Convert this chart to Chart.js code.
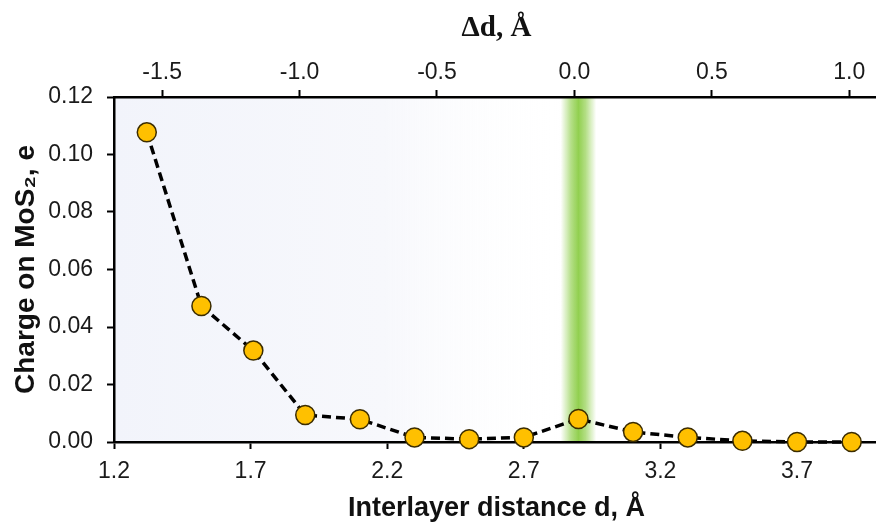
<!DOCTYPE html>
<html>
<head>
<meta charset="utf-8">
<script src="https://cdn.jsdelivr.net/npm/chart.js@4"></script>
<style>
  body { margin: 0; overflow: hidden; background: #fff; }
  #caja { width: 876px; height: 525px; overflow: hidden; }
</style>
</head>
<body>
<div id="caja"><canvas id="miGrafica" width="890" height="525"></canvas></div>
<script>
const distancia = [1.32, 1.52, 1.71, 1.90, 2.10, 2.30, 2.50, 2.70, 2.90, 3.10, 3.30, 3.50, 3.70, 3.90];
const carga = [0.1077, 0.0473, 0.0318, 0.0094, 0.0079, 0.0016, 0.0010, 0.0016, 0.0080, 0.0035, 0.0016, 0.0004, 0.0000, 0.0000];

const ticksD = [1.2, 1.7, 2.2, 2.7, 3.2, 3.7];
const ticksDelta = [-1.5, -1.0, -0.5, 0.0, 0.5, 1.0];
const ticksCarga = [0, 0.02, 0.04, 0.06, 0.08, 0.10, 0.12];
const dEquilibrio = 2.9;

const puntos = distancia.map((d, i) => ({x: d, y: carga[i]}));

const fuenteTicks = {family: 'Liberation Sans', size: 23};

// fondo azulado a la izquierda y franja verde en la distancia de equilibrio
const fondo = {
  id: 'fondo',
  beforeDraw(chart) {
    const {ctx, chartArea: a, scales: {x}} = chart;
    ctx.save();
    const xFin = x.getPixelForValue(2.85);
    let g = ctx.createLinearGradient(a.left, 0, xFin, 0);
    g.addColorStop(0, 'rgb(242,244,251)');
    g.addColorStop(0.6, 'rgb(247,248,252)');
    g.addColorStop(1, 'rgba(255,255,255,0)');
    ctx.fillStyle = g;
    ctx.fillRect(a.left, a.top, xFin - a.left, a.bottom - a.top);

    const x0 = x.getPixelForValue(dEquilibrio - 0.065);
    const x1 = x.getPixelForValue(dEquilibrio + 0.065);
    g = ctx.createLinearGradient(x0, 0, x1, 0);
    g.addColorStop(0, 'rgba(146,208,80,0)');
    g.addColorStop(0.3, 'rgba(146,208,80,0.7)');
    g.addColorStop(0.5, 'rgba(146,208,80,1)');
    g.addColorStop(0.7, 'rgba(146,208,80,0.7)');
    g.addColorStop(1, 'rgba(146,208,80,0)');
    ctx.fillStyle = g;
    ctx.fillRect(x0, a.top, x1 - x0, a.bottom - a.top);
    ctx.restore();
  }
};

const sinPaddingX = (s, alto) => { s.height = alto; s.paddingLeft = 0; s.paddingRight = 0; };

const graf = document.getElementById('miGrafica').getContext('2d');
const myChart = new Chart(graf, {
  type: 'line',
  data: {
    datasets: [{
      data: puntos,
      xAxisID: 'x',
      yAxisID: 'y',
      borderColor: '#000',
      borderWidth: 3.5,
      borderDash: [9, 5],
      pointRadius: 9.5,
      pointHoverRadius: 9.5,
      pointBackgroundColor: '#FFC000',
      pointBorderColor: '#3b2c00',
      pointBorderWidth: 1.5,
      tension: 0,
      clip: false
    }]
  },
  options: {
    responsive: false,
    animation: false,
    layout: {padding: {left: 0, right: 5, top: 0, bottom: 0}},
    plugins: {legend: {display: false}, tooltip: {enabled: false}},
    scales: {
      x: {
        type: 'linear',
        position: 'bottom',
        min: 1.2,
        max: 4.0,
        afterBuildTicks: s => { s.ticks = ticksD.map(v => ({value: v})); },
        afterFit: s => sinPaddingX(s, 83),
        grid: {drawOnChartArea: false, tickLength: 7, tickWidth: 2, tickColor: '#000'},
        border: {color: '#000', width: 2.5},
        ticks: {font: fuenteTicks, color: '#1a1a1a', padding: 9, callback: v => v.toFixed(1)},
        title: {
          display: true,
          text: 'Interlayer distance d, Å',
          font: {family: 'Liberation Sans', size: 27, weight: 'bold'},
          color: '#111',
          padding: {top: 0, bottom: 0}
        }
      },
      x2: {
        type: 'linear',
        position: 'top',
        min: -1.675,
        max: 1.108,
        afterBuildTicks: s => { s.ticks = ticksDelta.map(v => ({value: v})); },
        afterFit: s => sinPaddingX(s, 97),
        grid: {drawOnChartArea: false, tickLength: 7, tickWidth: 2, tickColor: '#000'},
        border: {color: '#000', width: 2.5},
        ticks: {font: fuenteTicks, color: '#1a1a1a', padding: 4, callback: v => v.toFixed(1)},
        title: {
          display: true,
          text: 'Δd, Å',
          font: {family: 'Liberation Serif', size: 29, weight: 'bold'},
          color: '#111',
          padding: {top: 11, bottom: 0}
        }
      },
      y: {
        type: 'linear',
        position: 'left',
        min: 0,
        max: 0.12,
        afterBuildTicks: s => { s.ticks = ticksCarga.map(v => ({value: v})); },
        afterFit: s => { s.width = 114; s.paddingTop = 0; s.paddingBottom = 0; },
        grid: {drawOnChartArea: false, tickLength: 7, tickWidth: 2, tickColor: '#000'},
        border: {color: '#000', width: 2.5},
        ticks: {font: fuenteTicks, color: '#1a1a1a', padding: 14, callback: v => v.toFixed(2)},
        title: {
          display: true,
          text: 'Charge on MoS₂, e',
          font: {family: 'Liberation Sans', size: 28, weight: 'bold'},
          color: '#111',
          padding: {top: 9, bottom: 0}
        }
      }
    }
  },
  plugins: [fondo]
});
</script>
</body>
</html>
